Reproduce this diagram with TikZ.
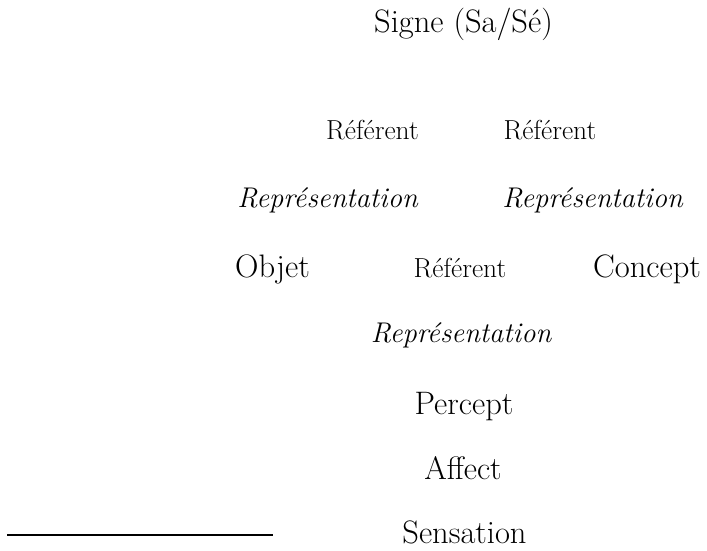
\documentclass[tikz,border=0pt]{standalone}
\begin{document}
\begin{tikzpicture}[x=1pt,y=-1pt,
  big/.style={anchor=base,inner sep=0pt,font=\fontsize{32.5}{38}\selectfont},
  ref/.style={anchor=base,inner sep=0pt,font=\fontsize{27.5}{32}\selectfont},
  rep/.style={anchor=base,inner sep=0pt,font=\fontsize{28.5}{33}\selectfont\itshape}]
\useasboundingbox (0,0) rectangle (707,550);
\node[big] (signe) at (463.5,32) {Signe (Sa/Sé)};
\node[ref] (ref1) at (372.5,139) {Référent};
\node[ref] (ref2) at (550,139) {Référent};
\node[rep] (repl) at (327.5,207) {Représentation};
\node[rep] (repr) at (592.5,207) {Représentation};
\node[big] (objet) at (272.5,277) {Objet};
\node[ref] (refm) at (460,277) {Référent};
\node[big] (concept) at (647,277) {Concept};
\node[rep] (repb) at (461,342) {Représentation};
\node[big] (percept) at (464,414) {Percept};
\node[big] (affect) at (463,479) {Affect};
\node[big] (sensation) at (464.5,543) {Sensation};
\coordinate (lstart) at (7,535);
\coordinate (lend) at (273,535);
\draw[line width=1.6pt] (lstart) -- (lend);
\end{tikzpicture}
\end{document}
